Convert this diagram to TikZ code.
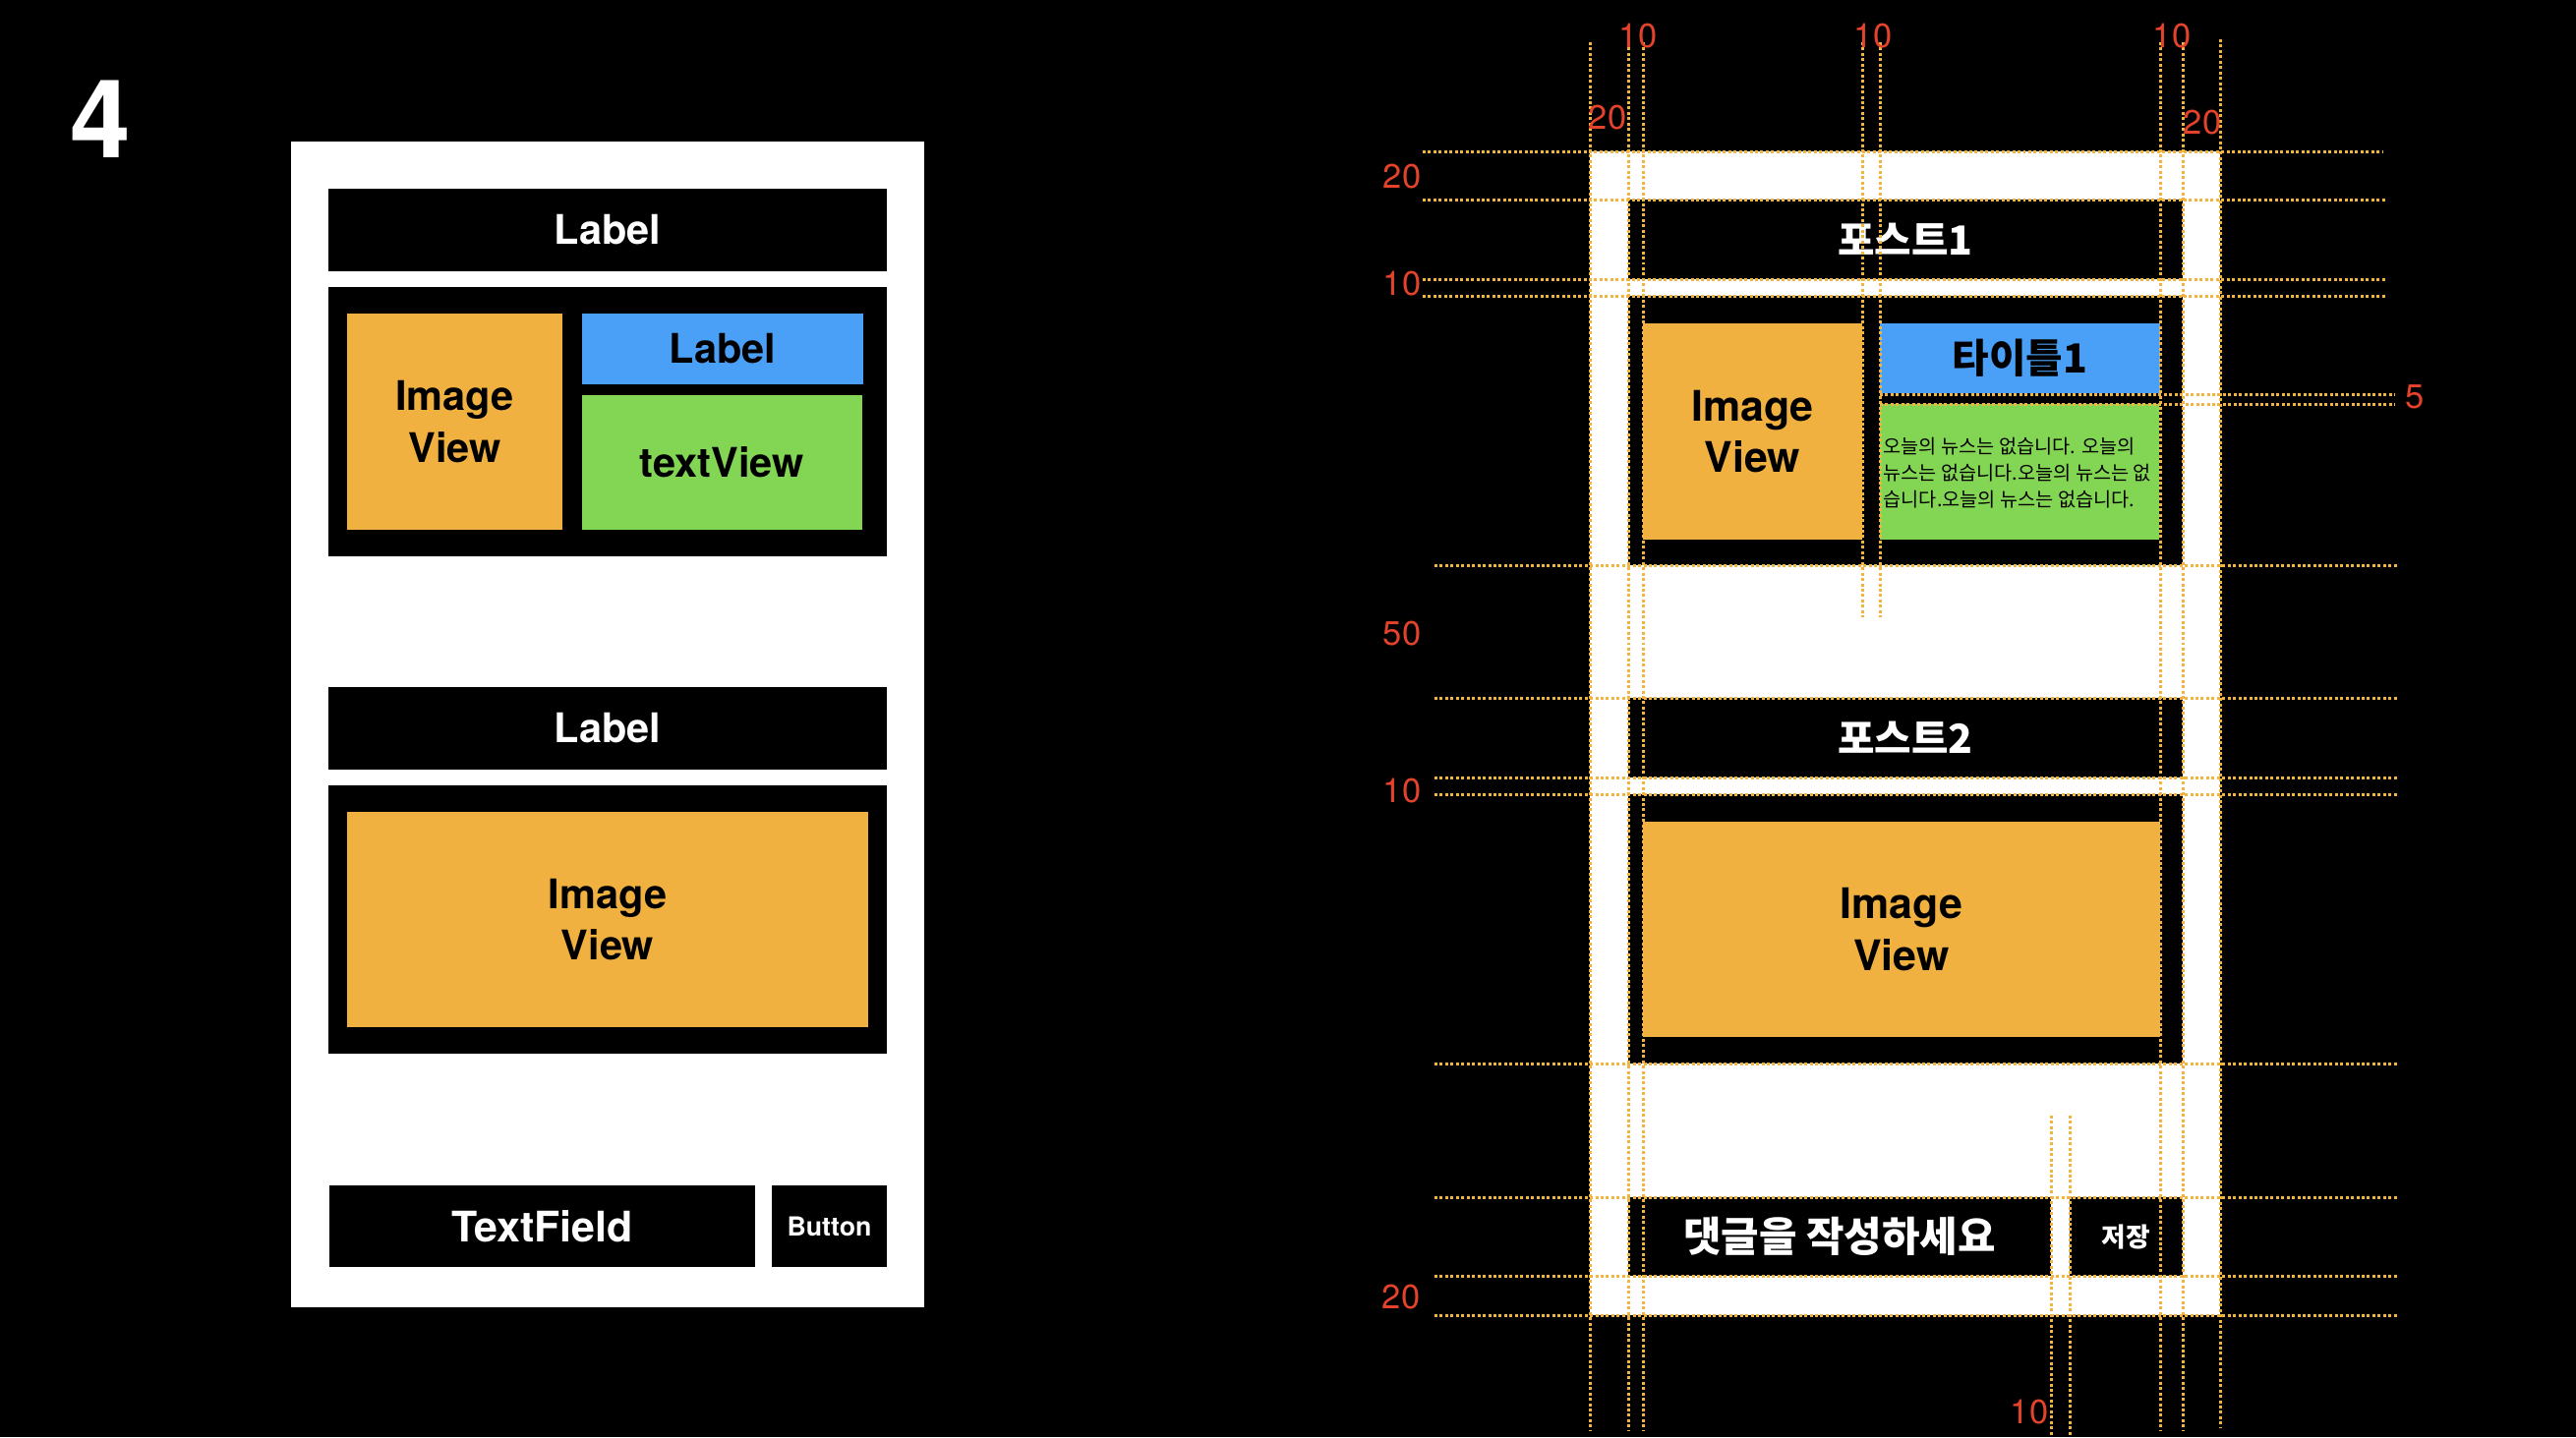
\documentclass[tikz,border=0pt]{standalone}
\usepackage{fontspec}
\setmainfont{TeX Gyre Heros}
\newfontfamily\kr{Noto Sans CJK KR}
\definecolor{imgc}{HTML}{F1B140}
\definecolor{bluec}{HTML}{4AA0F7}
\definecolor{greenc}{HTML}{83D654}
\definecolor{guidec}{HTML}{F2B441}
\definecolor{numc}{HTML}{E4432B}
\newcommand\lblfont{\fontsize{11.8}{15}\selectfont\bfseries}
\newcommand\krhead{\kr\bfseries\fontsize{11.6}{14}\selectfont}
\tikzset{
  bx/.style n args={4}{minimum width={(#3-#1)*0.01cm}, minimum height={(#4-#2)*0.01cm},
     at={({(#1+#3)/2},{(#2+#4)/2})}, inner sep=0pt, outer sep=0pt, draw=none, anchor=center},
  blk/.style={fill=black, text=white},
  imgbox/.style={fill=imgc, text=black, align=center, font=\lblfont},
  num/.style={text=numc, inner sep=0pt, font=\fontsize{9.8}{11}\selectfont},
  guide/.style={draw=guidec, line width=0.85pt, dash pattern=on 0.85pt off 0.7pt},
}
\begin{document}
\begin{tikzpicture}[x=0.01cm,y=-0.01cm]
\fill[black] (0,0) rectangle (2620,1462);
\useasboundingbox (0,0) rectangle (2620,1462);

% big number
\node[text=white, font=\fontsize{31.5}{33}\selectfont\bfseries, inner sep=0pt] (four) at (102,121) {4};

% ===== left mockup =====
\node[bx={296}{144}{940}{1330}, fill=white] (lpanel) {};
\node[bx={334}{192}{902}{276}, blk, font=\lblfont] (llabel1) {Label};
\node[bx={334}{292}{902}{566}, fill=black] (lcell1) {};
\node[bx={353}{319}{572}{539}, imgbox] (limg1) {Image\\View};
\node[bx={592}{319}{878}{391}, fill=bluec, font=\lblfont] (ltitle) {Label};
\node[bx={592}{402}{877}{539}, fill=greenc, font=\lblfont] (ltext) {textView};
\node[bx={334}{699}{902}{783}, blk, font=\lblfont] (llabel2) {Label};
\node[bx={334}{799}{902}{1072}, fill=black] (lcell2) {};
\node[bx={353}{826}{883}{1045}, imgbox] (limg2) {Image\\View};
\node[bx={335}{1206}{768}{1289}, blk, font=\fontsize{12.2}{15}\selectfont\bfseries] (lfield) {TextField};
\node[bx={785}{1206}{902}{1289}, blk, font=\fontsize{7.6}{10}\selectfont\bfseries] (lbutton) {Button};

% ===== right mockup =====
\node[bx={1617}{154}{2258}{1338}, fill=white] (rpanel) {};
\node[bx={1656}{203}{2220}{284}, blk, font=\krhead] (rpost1) {포스트1};
\node[bx={1656}{301}{2220}{575}, fill=black] (rcell1) {};
\node[bx={1671}{329}{1894}{549}, imgbox, font=\fontsize{12.2}{15}\selectfont\bfseries] (rimg1) {Image\\View};
\node[bx={1912}{329}{2197}{400}, fill=bluec, text=black, font=\krhead] (rtitle) {타이틀1};
\node[bx={1912}{411}{2196}{549}, fill=greenc] (rtext) {};
\node[anchor=west, align=left, inner sep=0pt, text=black,
      font=\kr\fontsize{5.6}{7.6}\selectfont] (rpara) at (1915,481)
  {오늘의 뉴스는 없습니다. 오늘의\\뉴스는 없습니다.오늘의 뉴스는 없\\습니다.오늘의 뉴스는 없습니다.};
\node[bx={1656}{710}{2220}{791}, blk, font=\krhead] (rpost2) {포스트2};
\node[bx={1656}{808}{2220}{1082}, fill=black] (rcell2) {};
\node[bx={1671}{836}{2197}{1055}, imgbox, font=\fontsize{12.2}{15}\selectfont\bfseries] (rimg2) {Image\\View};
\node[bx={1656}{1218}{2086}{1298}, blk, font=\kr\bfseries\fontsize{11.9}{14}\selectfont] (rfield) {댓글을 작성하세요};
\node[bx={2105}{1218}{2220}{1298}, blk, font=\kr\bfseries\fontsize{7.6}{9}\selectfont] (rbutton) {저장};

% ===== guide lines =====
\foreach \yy/\a/\b in {154/1447/2424, 203/1447/2426, 284/1447/2426, 301/1447/2426,
   401/1912/2436, 411/1912/2436, 575/1459/2440, 710/1459/2440, 791/1459/2440,
   808/1459/2440, 1082/1459/2440, 1218/1459/2440, 1298/1459/2440, 1338/1459/2440}
  \draw[guide] (\a,\yy) -- (\b,\yy);
\foreach \xx/\a/\b in {1617/43/1456, 1656/43/1456, 1671/43/1456, 1894/43/628, 1912/43/628,
   2197/43/1456, 2220/43/1456, 2258/40/1452, 2086/1135/1462, 2105/1135/1462}
  \draw[guide] (\xx,\a) -- (\xx,\b);

% ===== measurement numbers =====
\node[num] (t10a) at (1666,37) {10};
\node[num] (t10b) at (1905,37) {10};
\node[num] (t10c) at (2209,37) {10};
\node[num] (t20l) at (1635,120) {20};
\node[num] (t20r) at (2240,125) {20};
\node[num] (m20a) at (1426,180) {20};
\node[num] (m10a) at (1426,289) {10};
\node[num] (m50) at (1426,645) {50};
\node[num] (m10b) at (1426,805) {10};
\node[num] (m20b) at (1425,1320) {20};
\node[num] (m5) at (2456,404) {5};
\node[num] (b10) at (2064,1437) {10};
\end{tikzpicture}
\end{document}
